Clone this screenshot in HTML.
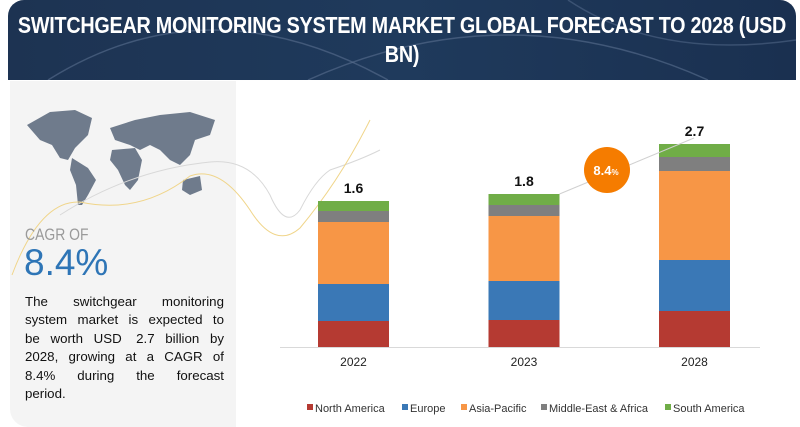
<!DOCTYPE html>
<html><head><meta charset="utf-8"><style>
body{margin:0;width:800px;height:427px;background:#fff;position:relative;overflow:hidden;font-family:"Liberation Sans",sans-serif}
#hdr{position:absolute;left:8px;top:0;width:788px;height:80px;background:linear-gradient(90deg,#1d3352,#1f3a5c 50%,#1a3050);border-radius:16px 16px 0 0;overflow:hidden}
.tl{position:absolute;left:-200px;width:1188px;text-align:center;color:#fff;font-size:23px;font-weight:bold;white-space:nowrap;transform:scaleX(0.86);transform-origin:center top;letter-spacing:-0.3px}
#left{position:absolute;left:10px;top:81px;width:226px;height:346px;background:#f4f4f4;border-radius:0 0 0 18px}
#cagr{position:absolute;left:25px;top:225px;font-size:17px;color:#9a9a9a;transform:scaleX(0.82);transform-origin:left}
#pct{position:absolute;left:24px;top:242px;font-size:37px;color:#2e75b6}
#para{position:absolute;left:25px;top:293px;width:199px;font-size:13.3px;line-height:18.4px;color:#111}
#para div{white-space:nowrap;display:flex;justify-content:space-between}
#para div.last{justify-content:flex-start}
</style></head><body>
<div id="hdr">
<svg width="788" height="80" style="position:absolute;left:0;top:0">
<path d="M40 80 Q200 -20 380 80" stroke="#5a7090" fill="none" stroke-width="1.5" opacity=".6"/>
<path d="M300 80 Q500 -10 700 80" stroke="#5a7090" fill="none" stroke-width="1.5" opacity=".6"/>
<path d="M560 0 Q650 60 788 40" stroke="#5a7090" fill="none" stroke-width="1.5" opacity=".5"/>
</svg>
<div class="tl" style="top:12px">SWITCHGEAR MONITORING SYSTEM MARKET GLOBAL FORECAST TO 2028 (USD</div>
<div class="tl" style="top:41px">BN)</div>
</div>
<div id="left"></div>
<svg width="800" height="427" style="position:absolute;left:0;top:0">
<g fill="#6f7b8c">
<path d="M27 125 L50 112 L75 110 L92 118 L88 135 L75 148 L68 160 L60 158 L52 145 L40 140 Z"/>
<path d="M72 158 L88 168 L96 180 L88 195 L82 205 L78 205 L76 185 L70 170 Z"/>
<path d="M110 128 L135 120 L160 115 L190 112 L215 120 L210 135 L195 140 L190 155 L180 165 L170 160 L160 150 L150 145 L140 150 L130 145 L115 140 Z"/>
<path d="M112 150 L135 148 L142 160 L138 180 L130 190 L125 185 L118 170 L110 160 Z"/>
<path d="M183 180 L200 176 L202 190 L190 195 L182 190 Z"/>
</g>
<path d="M60 215 Q130 170 210 162 Q250 158 270 195 Q285 230 300 210 Q315 180 330 170 Q360 160 380 150" stroke="#d8d8d8" fill="none" stroke-width="1"/>
<path d="M12 275 Q40 200 80 202 Q140 215 190 176 Q220 165 250 210 Q275 250 300 228 Q340 180 370 120" stroke="#f0d58a" fill="none" stroke-width="1"/>
</svg>
<div id="cagr">CAGR OF</div>
<div id="pct">8.4%</div>
<div id="para">
<div><span>The</span><span>switchgear</span><span>monitoring</span></div>
<div><span>system</span><span>market</span><span>is</span><span>expected</span><span>to</span></div>
<div><span>be</span><span>worth</span><span>USD</span><span>&nbsp;2.7</span><span>billion</span><span>by</span></div>
<div><span>2028,</span><span>growing</span><span>at</span><span>a</span><span>CAGR</span><span>of</span></div>
<div><span>8.4%</span><span>during</span><span>the</span><span>forecast</span></div>
<div class="last"><span>period.</span></div>
</div>
<svg id="chart" width="800" height="427" style="position:absolute;left:0;top:0"></svg>
<script>
const years=["2022","2023","2028"];
const totals=["1.6","1.8","2.7"];
const northAmerica=[0.26,0.27,0.36];
const europe=[0.37,0.39,0.51];
const asiaPacific=[0.62,0.65,0.89];
const middleEastAfrica=[0.11,0.11,0.14];
const southAmerica=[0.10,0.11,0.13];
const seriesNames=["North America","Europe","Asia-Pacific","Middle-East & Africa","South America"];
const seriesColors=["#b53a32","#3a78b6","#f79646","#7f7f7f","#70ad47"];
const series=[northAmerica,europe,asiaPacific,middleEastAfrica,southAmerica];
const NS="http://www.w3.org/2000/svg";
const svg=document.getElementById('chart');
const base=347,scale=100;
const xCenter=i=>353.5+i*170.5;
const bw=71;
const y=v=>base-v*scale;
function mk(t,a){const e=document.createElementNS(NS,t);for(const k in a)e.setAttribute(k,a[k]);svg.appendChild(e);return e;}
const ax=mk('line',{x1:280,x2:760,y1:base+0.5,y2:base+0.5,stroke:'#d9d9d9','stroke-width':1});


const tops=[];
years.forEach((yr,i)=>{
 let cum=0;
 series.forEach((s,k)=>{
  const r=mk('rect',{x:xCenter(i)-bw/2,y:y(cum+s[i]),width:bw,height:s[i]*scale,fill:seriesColors[k]});
  
  
  cum+=s[i];
 });
 tops.push(y(cum));
 const t=mk('text',{x:xCenter(i),y:y(cum)-8,'text-anchor':'middle','font-size':14,'font-weight':'bold',fill:'#111'});
 t.textContent=totals[i];
 
 
 const l=mk('text',{x:xCenter(i),y:366,'text-anchor':'middle','font-size':12,fill:'#222'});
 l.textContent=yr;
 
 
});
const ar=mk('line',{x1:xCenter(1)+bw/2,y1:tops[1],x2:xCenter(2)-bw/2+35,y2:tops[2]-6,stroke:'#d0d0d0','stroke-width':1});


const c=mk('circle',{cx:607,cy:170,r:23,fill:'#f57c00'});


const ct=mk('text',{x:606,y:175,'text-anchor':'middle','font-size':13,'font-weight':'bold',fill:'#fff'});
ct.innerHTML='8.4<tspan font-size="8">%</tspan>';


const lx=[307,402,461,541,665];
seriesNames.forEach((n,k)=>{
 const g=document.createElementNS(NS,'g');svg.appendChild(g);
 
 
 const r=document.createElementNS(NS,'rect');
 r.setAttribute('x',lx[k]);r.setAttribute('y',404);r.setAttribute('width',6);r.setAttribute('height',6);r.setAttribute('fill',seriesColors[k]);g.appendChild(r);
 const t=document.createElementNS(NS,'text');
 t.setAttribute('x',lx[k]+8);t.setAttribute('y',412);t.setAttribute('font-size',11);t.setAttribute('fill','#333');t.textContent=n;g.appendChild(t);
});
</script>
</body></html>
